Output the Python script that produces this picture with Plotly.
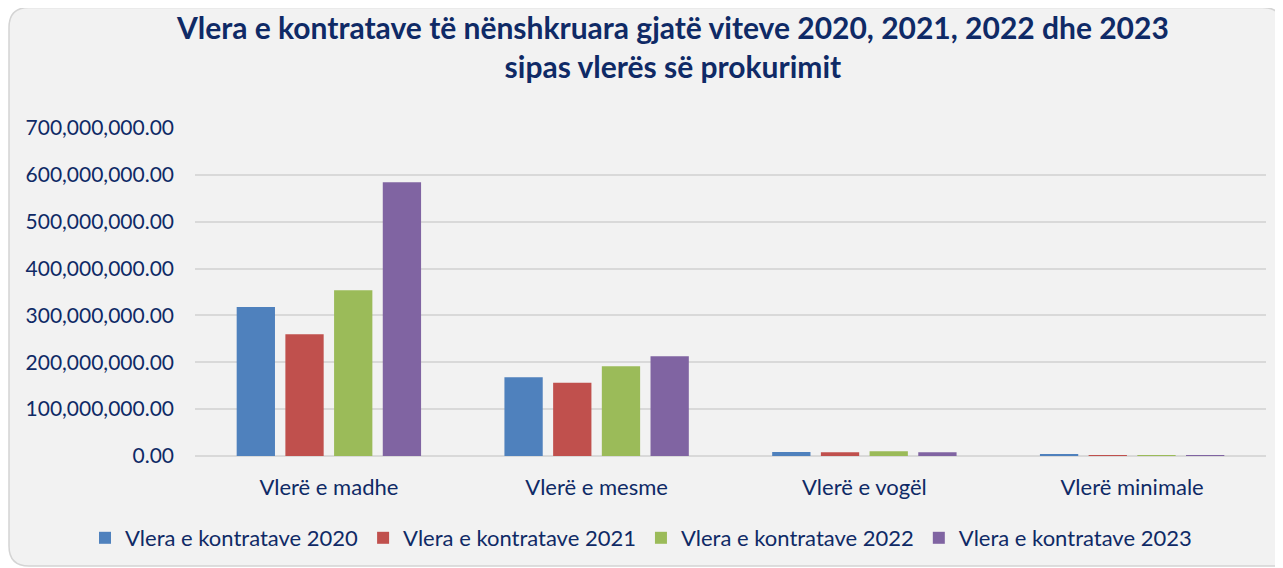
import plotly.graph_objects as go

categories = ["Vlerë e madhe", "Vlerë e mesme", "Vlerë e vogël", "Vlerë minimale"]
series_names = ["Vlera e kontratave 2020", "Vlera e kontratave 2021",
                "Vlera e kontratave 2022", "Vlera e kontratave 2023"]
v2020 = [318_000_000, 168_000_000, 8_500_000, 2_500_000]
v2021 = [260_000_000, 156_500_000, 8_000_000, 1_200_000]
v2022 = [354_000_000, 191_500_000, 10_000_000, 1_200_000]
v2023 = [584_000_000, 213_000_000, 8_000_000, 1_200_000]
colors = ["#4F81BD", "#C0504D", "#9BBB59", "#8064A2"]
tick_vals = [0, 100e6, 200e6, 300e6, 400e6, 500e6, 600e6, 700e6]
tick_text = ["0.00", "100,000,000.00", "200,000,000.00", "300,000,000.00",
             "400,000,000.00", "500,000,000.00", "600,000,000.00", "700,000,000.00"]
title_lines = ["Vlera e kontratave të nënshkruara gjatë viteve 2020, 2021, 2022 dhe 2023",
               "sipas vlerës së prokurimit"]

navy = "#0F2A66"
FONT = "Lato, sans-serif"
fig = go.Figure()
for name, vals, c in zip(series_names, [v2020, v2021, v2022, v2023], colors):
    fig.add_trace(go.Bar(name=name, x=categories, y=vals, marker_color=c,
                         marker_line_width=0))

W, H = 1275, 560
L, R, T, B = 187, 17, 120, 112
pw, ph = W - L - R, H - T - B


def px(x):
    return (x - L) / pw


def py(y):
    return (H - B - y) / ph


x0, x1, y0, y1 = 1, 1274.5, -0.5, 558
r = 20
path = (f"M {px(x0 + r)},{py(y0)} L {px(x1 - r)},{py(y0)} "
        f"Q {px(x1)},{py(y0)} {px(x1)},{py(y0 + r)} "
        f"L {px(x1)},{py(y1)} L {px(x0 + r)},{py(y1)} "
        f"Q {px(x0)},{py(y1)} {px(x0)},{py(y1 - r)} "
        f"L {px(x0)},{py(y0 + r)} "
        f"Q {px(x0)},{py(y0)} {px(x0 + r)},{py(y0)} Z")

annotations = [
    dict(text="<b>" + "<br>".join(title_lines) + "</b>", x=px(664), y=py(38.5),
         xref="paper", yref="paper", xanchor="center", yanchor="middle",
         showarrow=False, font=dict(size=30, color=navy, family=FONT)),
]

fig.update_layout(
    width=W, height=H,
    margin=dict(l=L, r=R, t=T, b=B, pad=0, autoexpand=False),
    paper_bgcolor="white", plot_bgcolor="rgba(0,0,0,0)",
    barmode="group", bargap=0.2725, bargroupgap=0.2136,
    font=dict(family=FONT, color=navy, size=21),
    xaxis=dict(showline=False, ticks="", tickfont=dict(size=22, color=navy),
               showgrid=False, ticklabelstandoff=16),
    yaxis=dict(range=[0, 700e6], tickvals=tick_vals, ticktext=tick_text,
               showgrid=True, gridcolor="#D9D9D9", gridwidth=2, zeroline=True,
               zerolinecolor="#D9D9D9", zerolinewidth=2,
               tickfont=dict(size=21, color=navy), ticks="", ticklabelstandoff=20),
    legend=dict(orientation="h", x=px(77), xanchor="left", y=py(530), yanchor="middle",
                font=dict(size=22, color=navy), bgcolor="rgba(0,0,0,0)",
                itemwidth=30, traceorder="normal"),
    annotations=annotations,
    shapes=[dict(type="path", path=path, xref="paper", yref="paper",
                 fillcolor="#F2F2F2", line=dict(color="#D4D4D4", width=1.5),
                 layer="below")],
)
fig.write_html("out.html")
